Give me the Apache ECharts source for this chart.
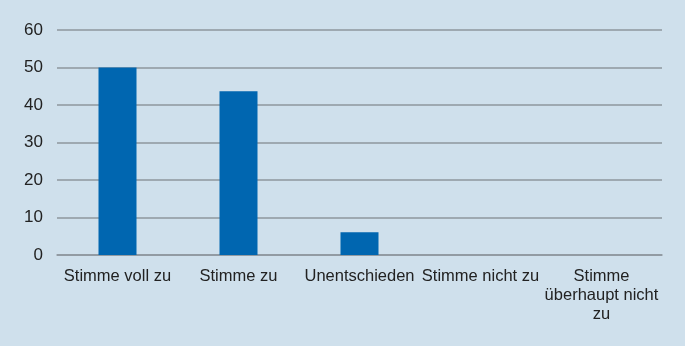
<!DOCTYPE html>
<html>
<head>
<meta charset="utf-8">
<script src="https://cdn.jsdelivr.net/npm/echarts@6/dist/echarts.min.js"></script>
<style>
  html, body { margin: 0; padding: 0; background: #cfe0ec; }
  #chart { width: 685px; height: 346px; }
</style>
</head>
<body>
<div id="chart"></div>
<script>
let categories = ['Stimme voll zu', 'Stimme zu', 'Unentschieden', 'Stimme nicht zu', 'Stimme\nüberhaupt nicht\nzu'];
let values = [50, 43.7, 6.1, 0, 0];

let myChart = echarts.init(document.getElementById("chart"));
let option = {
    backgroundColor: "#cfe0ec",
    color: ["#0066b0"],
    animation: false,
    grid: {
        left: 57,
        right: 23,
        top: 30,
        bottom: 91
    },
    xAxis: {
        type: 'category',
        data: categories,
        axisTick: {show: false},
        axisLine: {
            show: true,
            lineStyle: {color: '#8e979e', width: 1.5}
        },
        axisLabel: {
            interval: 0,
            margin: 12,
            color: '#222222',
            fontFamily: 'Liberation Sans, Arial, sans-serif',
            fontSize: 16.5,
            lineHeight: 19
        }
    },
    yAxis: {
        type: 'value',
        min: 0,
        max: 60,
        interval: 10,
        axisLine: {show: false},
        axisTick: {show: false},
        axisLabel: {
            margin: 14,
            color: '#222222',
            fontFamily: 'Liberation Sans, Arial, sans-serif',
            fontSize: 17
        },
        splitLine: {
            show: true,
            lineStyle: {color: '#8e979e', width: 1.5, type: 'solid'}
        }
    },
    series: [{
        type: 'bar',
        data: values,
        barWidth: 38
    }]
};
myChart.setOption(option);
</script>
</body>
</html>
